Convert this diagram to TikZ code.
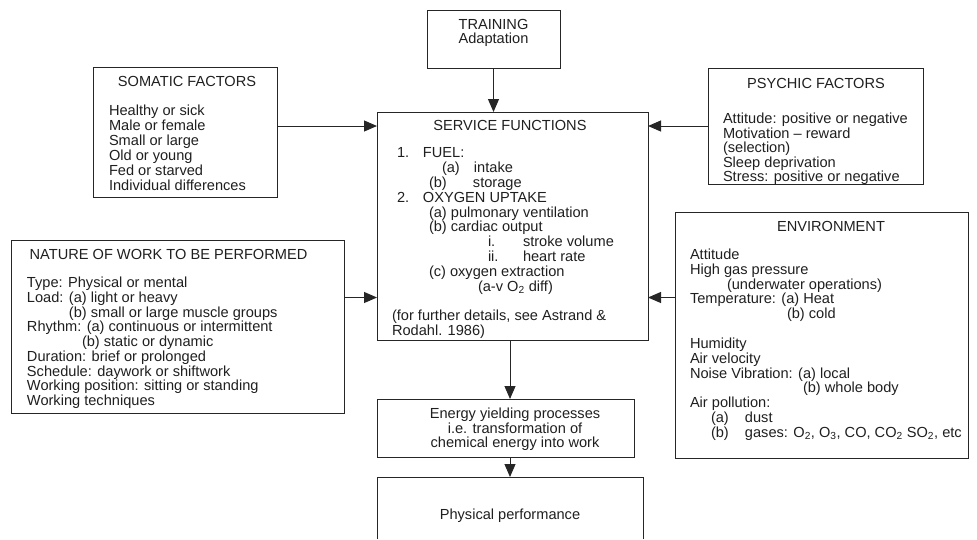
\documentclass[tikz,border=0pt]{standalone}
\usepackage{fontspec}
\setmainfont{Liberation Sans}
\usetikzlibrary{arrows.meta}
\newcommand\Blk[2][14.8pt]{\vtop{\baselineskip=#1\lineskiplimit=-100pt\lineskip=0pt #2}}
\tikzset{
  x=1pt, y=-1pt,
  boxnode/.style={draw=black!85, line width=0.9pt, inner sep=0pt, outer sep=0pt, rectangle},
  txt/.style={inner sep=0pt, outer sep=0pt, text=black!88, font=\fontsize{14.6}{14.8}\selectfont},
  conn/.style={line width=1pt, draw=black!85, -{Triangle[length=13pt,width=11pt]}},
}
\begin{document}
\begin{tikzpicture}
\useasboundingbox (0,0) rectangle (977,539);
% boxes
\node[boxnode, minimum width=133pt, minimum height=58pt] (train) at (493.5,39) {};
\node[boxnode, minimum width=184pt, minimum height=130pt] (soma) at (185,132) {};
\node[boxnode, minimum width=215pt, minimum height=116pt] (psy) at (815.5,126) {};
\node[boxnode, minimum width=271pt, minimum height=228pt] (sf) at (512.5,226) {};
\node[boxnode, minimum width=333pt, minimum height=173pt] (nat) at (177.5,326.5) {};
\node[boxnode, minimum width=293pt, minimum height=246pt] (env) at (821.5,335) {};
\node[boxnode, minimum width=257pt, minimum height=58pt] (energy) at (505.5,428) {};
\node[boxnode, draw=none, minimum width=266pt, minimum height=62pt] (phys) at (510,508) {};
\draw[draw=black!85, line width=0.9pt] (phys.south west) -- (phys.north west) -- (phys.north east) -- (phys.south east);

% TRAINING
\node[txt, anchor=base] (traint) at (493.5,29) {\Blk[14pt]{\hbox to 120pt{\hfil TRAINING\hfil}\hbox to 120pt{\hfil Adaptation\hfil}}};

% SOMATIC
\node[txt, anchor=base] (somah) at (187,86) {SOMATIC FACTORS};
\node[txt, anchor=base west] (somab) at (109,115.5) {\Blk[15pt]{%
\hbox{Healthy or sick}
\hbox{Male or female}
\hbox{Small or large}
\hbox{Old or young}
\hbox{Fed or starved}
\hbox{Individual differences}}};

% PSYCHIC
\node[txt, anchor=base] (psyh) at (816,88) {PSYCHIC FACTORS};
\node[txt, anchor=base west] (psyb) at (723,123.5) {\Blk[14.6pt]{%
\hbox{Attitude: positive or negative}
\hbox{Motivation -- reward}
\hbox{(selection)}
\hbox{Sleep deprivation}
\hbox{Stress: positive or negative}}};

% SERVICE FUNCTIONS
\node[txt, anchor=base] (sfh) at (510,130) {SERVICE FUNCTIONS};
\node[txt, anchor=base west] (sfb) at (392,157.8) {\Blk[14.8pt]{%
\hbox{\kern5pt\makebox[26pt][l]{1.}FUEL:}
\hbox{\kern50pt\makebox[32pt][l]{(a)}intake}
\hbox{\kern37pt\makebox[44pt][l]{(b)}storage}
\hbox{\kern5pt\makebox[26pt][l]{2.}OXYGEN UPTAKE}
\hbox{\kern37pt (a) pulmonary ventilation}
\hbox{\kern37pt (b) cardiac output}
\hbox{\kern96pt\makebox[35pt][l]{i.}stroke volume}
\hbox{\kern96pt\makebox[35pt][l]{ii.}heart rate}
\hbox{\kern37pt (c) oxygen extraction}
\hbox{\kern86pt (a-v O\textsubscript{2} diff)}
\hbox{}
\hbox{(for further details, see Astrand \&}
\hbox{Rodahl. 1986)}}};

% NATURE OF WORK
\node[txt, anchor=base] (nath) at (168.5,259) {NATURE OF WORK TO BE PERFORMED};
\node[txt, anchor=base west] (natb) at (27,287.5) {\Blk[14.75pt]{%
\hbox{Type: Physical or mental}
\hbox{Load: (a) light or heavy}
\hbox{\phantom{Load: }(b) small or large muscle groups}
\hbox{Rhythm: (a) continuous or intermittent}
\hbox{\kern55pt (b) static or dynamic}
\hbox{Duration: brief or prolonged}
\hbox{Schedule: daywork or shiftwork}
\hbox{Working position: sitting or standing}
\hbox{Working techniques}}};

% ENVIRONMENT
\node[txt, anchor=base] (envh) at (831,231.5) {ENVIRONMENT};
\node[txt, anchor=base west] (envb) at (690,259.5) {\Blk[14.83pt]{%
\hbox{Attitude}
\hbox{High gas pressure}
\hbox{\kern37pt (underwater operations)}
\hbox{Temperature: (a) Heat}
\hbox{\kern97pt (b) cold}
\hbox{}
\hbox{Humidity}
\hbox{Air velocity}
\hbox{Noise Vibration: (a) local}
\hbox{\kern113pt (b) whole body}
\hbox{Air pollution:}
\hbox{\kern21pt\makebox[34pt][l]{(a)}dust}
\hbox{\kern21pt\makebox[34pt][l]{(b)}gases: O\textsubscript{2}, O\textsubscript{3}, CO, CO\textsubscript{2} SO\textsubscript{2}, etc}}};

% ENERGY
\node[txt, anchor=base] (energyt) at (515,418.5) {\Blk[14.5pt]{%
\hbox to 250pt{\hfil Energy yielding processes\hfil}
\hbox to 250pt{\hfil i.e. transformation of\hfil}
\hbox to 250pt{\hfil chemical energy into work\hfil}}};

% PHYSICAL
\node[txt, anchor=base] (physt) at (510,519.5) {Physical performance};

% connectors
\coordinate (lowarr) at (0,297.5);
\coordinate (midx) at (510,0);
\draw[conn] (train.south) -- (train.south |- sf.north);
\draw[conn] ([yshift=6pt]soma.east) -- ([yshift=6pt]soma.east -| sf.west);
\draw[conn] (psy.west) -- (psy.west -| sf.east);
\draw[conn] (nat.east |- lowarr) -- (sf.west |- lowarr);
\draw[conn] (env.west |- lowarr) -- (sf.east |- lowarr);
\draw[conn] (sf.south -| midx) -- (energy.north -| midx);
\draw[conn] (energy.south -| midx) -- (phys.north -| midx);
\end{tikzpicture}
\end{document}
